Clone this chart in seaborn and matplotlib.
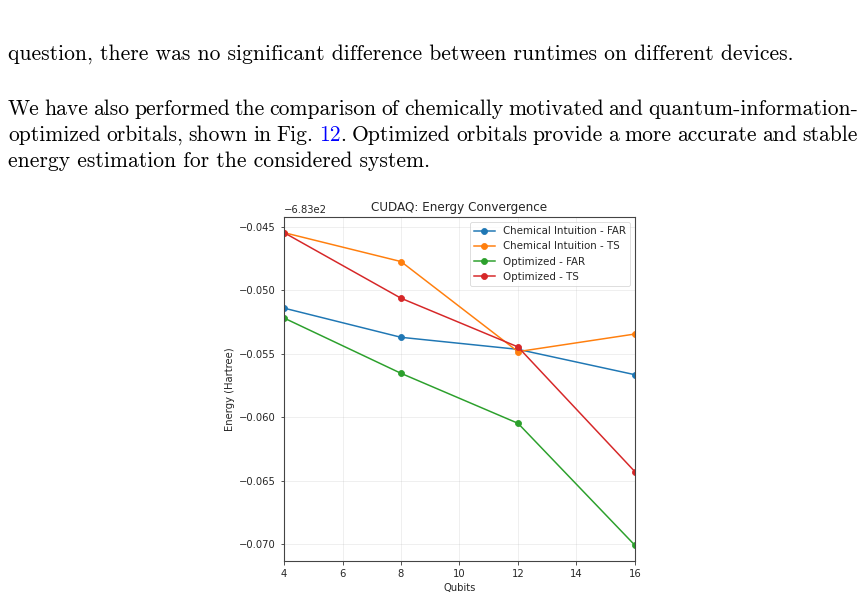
import matplotlib
matplotlib.use("Agg")
import matplotlib.pyplot as plt
import seaborn as sns
import pandas as pd

# ---- data ----
qubits = [4, 8, 12, 16]
chem_far = [-683.0514, -683.0537, -683.05465, -683.05665]
chem_ts = [-683.04545, -683.04773, -683.05483, -683.05344]
opt_far = [-683.05218, -683.05654, -683.06048, -683.0701]
opt_ts = [-683.04545, -683.05062, -683.05446, -683.0643]
series_names = ["Chemical Intuition - FAR", "Chemical Intuition - TS",
                "Optimized - FAR", "Optimized - TS"]
series_values = [chem_far, chem_ts, opt_far, opt_ts]
colors = ["#1f77b4", "#ff7f0e", "#2ca02c", "#d62728"]

title = "CUDAQ: Energy Convergence"
xlabel = "Qubits"
ylabel = "Energy (Hartree)"

para_line1 = "question, there was no significant difference between runtimes on different devices."
para_line2 = "We have also performed the comparison of chemically motivated and quantum-information-"
para_line3 = [[("optimized", "k")], [("orbitals,", "k")], [("shown", "k")], [("in", "k")],
              [("Fig.", "k")], [("12", "#0000ff"), (".", "k")], [("Optimized", "k")],
              [("orbitals", "k")], [("provide", "k")], [("a", "k")], [("more", "k")],
              [("accurate", "k")], [("and", "k")], [("stable", "k")]]
para_line4 = "energy estimation for the considered system."

# ---- figure ----
W, H = 866, 599
fig = plt.figure(figsize=(W / 100, H / 100), dpi=100)
sc = 0.72
txtc = "#262626"
plt.rcParams.update({
    "font.family": ["DejaVu Sans"],
    "xtick.labelsize": 10 * sc,
    "ytick.labelsize": 10 * sc,
    "xtick.major.size": 3.5 * sc,
    "ytick.major.size": 3.5 * sc,
    "xtick.major.width": 0.9 * sc,
    "ytick.major.width": 0.9 * sc,
    "xtick.color": "#444444",
    "ytick.color": "#444444",
    "xtick.labelcolor": txtc,
    "ytick.labelcolor": txtc,
    "axes.linewidth": 1.1 * sc,
    "axes.edgecolor": "#444444",
})

ax = fig.add_axes([284 / W, 38 / H, 351 / W, 344 / H])
rows = []
for name, vals in zip(series_names, series_values):
    for q, v in zip(qubits, vals):
        rows.append({"Qubits": q, "Energy": v, "Series": name})
df = pd.DataFrame(rows)

for name, col in zip(series_names, colors):
    sub = df[df["Series"] == name]
    sns.lineplot(data=sub, x="Qubits", y="Energy", ax=ax, color=col, label=name,
                 marker="o", markersize=6 * sc, markeredgewidth=0.8 * sc,
                 markeredgecolor=col, linewidth=1.5 * sc)

ax.set_xlim(4, 16)
ax.grid(True, alpha=0.25, linewidth=0.8 * sc)
ax.set_title(title, fontsize=12 * sc, pad=6 * sc, color=txtc)
ax.set_xlabel(xlabel, fontsize=10 * sc, labelpad=4 * sc, color=txtc)
ax.set_ylabel(ylabel, fontsize=10 * sc, labelpad=4 * sc, color=txtc)
ax.yaxis.get_offset_text().set_fontsize(10 * sc)
ax.yaxis.get_offset_text().set_color(txtc)
leg = ax.legend(loc="upper right", fontsize=10 * 0.74)
leg.get_frame().set_linewidth(0.8 * sc)
for t in leg.get_texts():
    t.set_color(txtc)

# ---- paragraph text ----
fig.canvas.draw()
renderer = fig.canvas.get_renderer()
FONT = "cmr10"


def text_width(s, size):
    t = fig.text(0, 0, s, fontfamily=FONT, fontsize=size)
    w = t.get_window_extent(renderer).width
    t.remove()
    return w


fs = 14.0
fs = fs * 779.0 / text_width(para_line1, fs)


def px(x, y):
    return x / W, 1 - y / H


def put(x, y, s, color="k"):
    t = fig.text(*px(x, y), s, fontfamily=FONT, fontsize=fs, color=color,
                 va="baseline", ha="left")
    return t.get_window_extent(renderer).width


def justify(words, y, x0=8, x1=858):
    widths = []
    for w in words:
        widths.append(sum(text_width(s, fs) for s, _ in w))
    gap = (x1 - x0 - sum(widths)) / (len(words) - 1)
    x = x0
    for w, ww in zip(words, widths):
        xx = x
        for s, c in w:
            xx += put(xx, y, s, c)
        x += ww + gap


put(8, 60, para_line1)
justify([[(w, "k")] for w in para_line2.split(" ")], 115)
justify(para_line3, 141)
put(8, 167, para_line4)

fig.savefig("out.png", dpi=100)
